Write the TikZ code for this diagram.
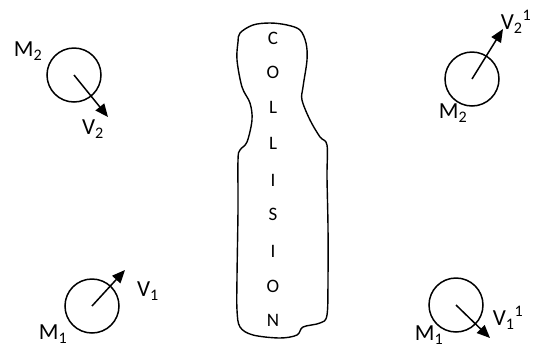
\documentclass[tikz,border=0pt]{standalone}
\usepackage{fontspec}
\setmainfont{Carlito}
\usetikzlibrary{arrows.meta}
\tikzset{
  ball/.style={circle,draw,line width=1.5pt,minimum size=54pt,inner sep=0pt},
  vel/.style={line width=1.5pt,-{Triangle[length=13pt,width=11pt]}},
  lbl/.style={font=\fontsize{23}{23}\selectfont,inner sep=0pt},
  letter/.style={font=\fontsize{19}{19}\selectfont,inner sep=0pt}
}
\begin{document}
\begin{tikzpicture}[x=1pt,y=-1pt]
\useasboundingbox (0,0) rectangle (539,349);
% balls
\node[ball] (b2l) at (74,75) {};
\node[ball] (b2r) at (472,79) {};
\node[ball] (b1l) at (92,306) {};
\node[ball] (b1r) at (456,305) {};
% arrow tips
\coordinate (t2l) at (108,117);
\coordinate (t2r) at (503,29);
\coordinate (t1l) at (125,270);
\coordinate (t1r) at (490,338);
\draw[vel] (b2l.center) -- (t2l);
\draw[vel] (b2r.center) -- (t2r);
\draw[vel] (b1l.center) -- (t1l);
\draw[vel] (b1r.center) -- (t1r);
% labels
\node[lbl] (m2l) at (28,51) {M\textsubscript{2}};
\node[lbl] (v2l) at (93,129) {V\textsubscript{2}};
\node[lbl] (v2r) at (516,22) {V\textsubscript{2}\textsuperscript{1}};
\node[lbl] (m2r) at (453,113) {M\textsubscript{2}};
\node[lbl] (v1l) at (148,291) {V\textsubscript{1}};
\node[lbl] (m1l) at (53,334) {M\textsubscript{1}};
\node[lbl] (v1r) at (508,318) {V\textsubscript{1}\textsuperscript{1}};
\node[lbl] (m1r) at (429,335) {M\textsubscript{1}};
% collision blob
\draw[line width=1.4pt] plot[smooth cycle,tension=0.55] coordinates {
 (240,33) (253,25) (270,23) (287,25) (300,30) (306,43) (307,60) (303,87)
 (302,100) (310,120) (320,137) (327,145) (327,177) (328,227) (328,277)
 (327,315) (320,323) (303,327) (297,335) (280,338) (253,335) (240,327)
 (237,310) (237,277) (238,210) (238,160) (240,150) (247,142) (252,120)
 (250,103) (242,87) (237,60) (238,42)};
\node[letter] (c1) at (273,38) {C};
\node[letter] (c2) at (273,72) {O};
\node[letter] (c3) at (273,107) {L};
\node[letter] (c4) at (273,143) {L};
\node[letter] (c5) at (273,180) {I};
\node[letter] (c6) at (273,214) {S};
\node[letter] (c7) at (273,251) {I};
\node[letter] (c8) at (273,286) {O};
\node[letter] (c9) at (273,320) {N};
\end{tikzpicture}
\end{document}
